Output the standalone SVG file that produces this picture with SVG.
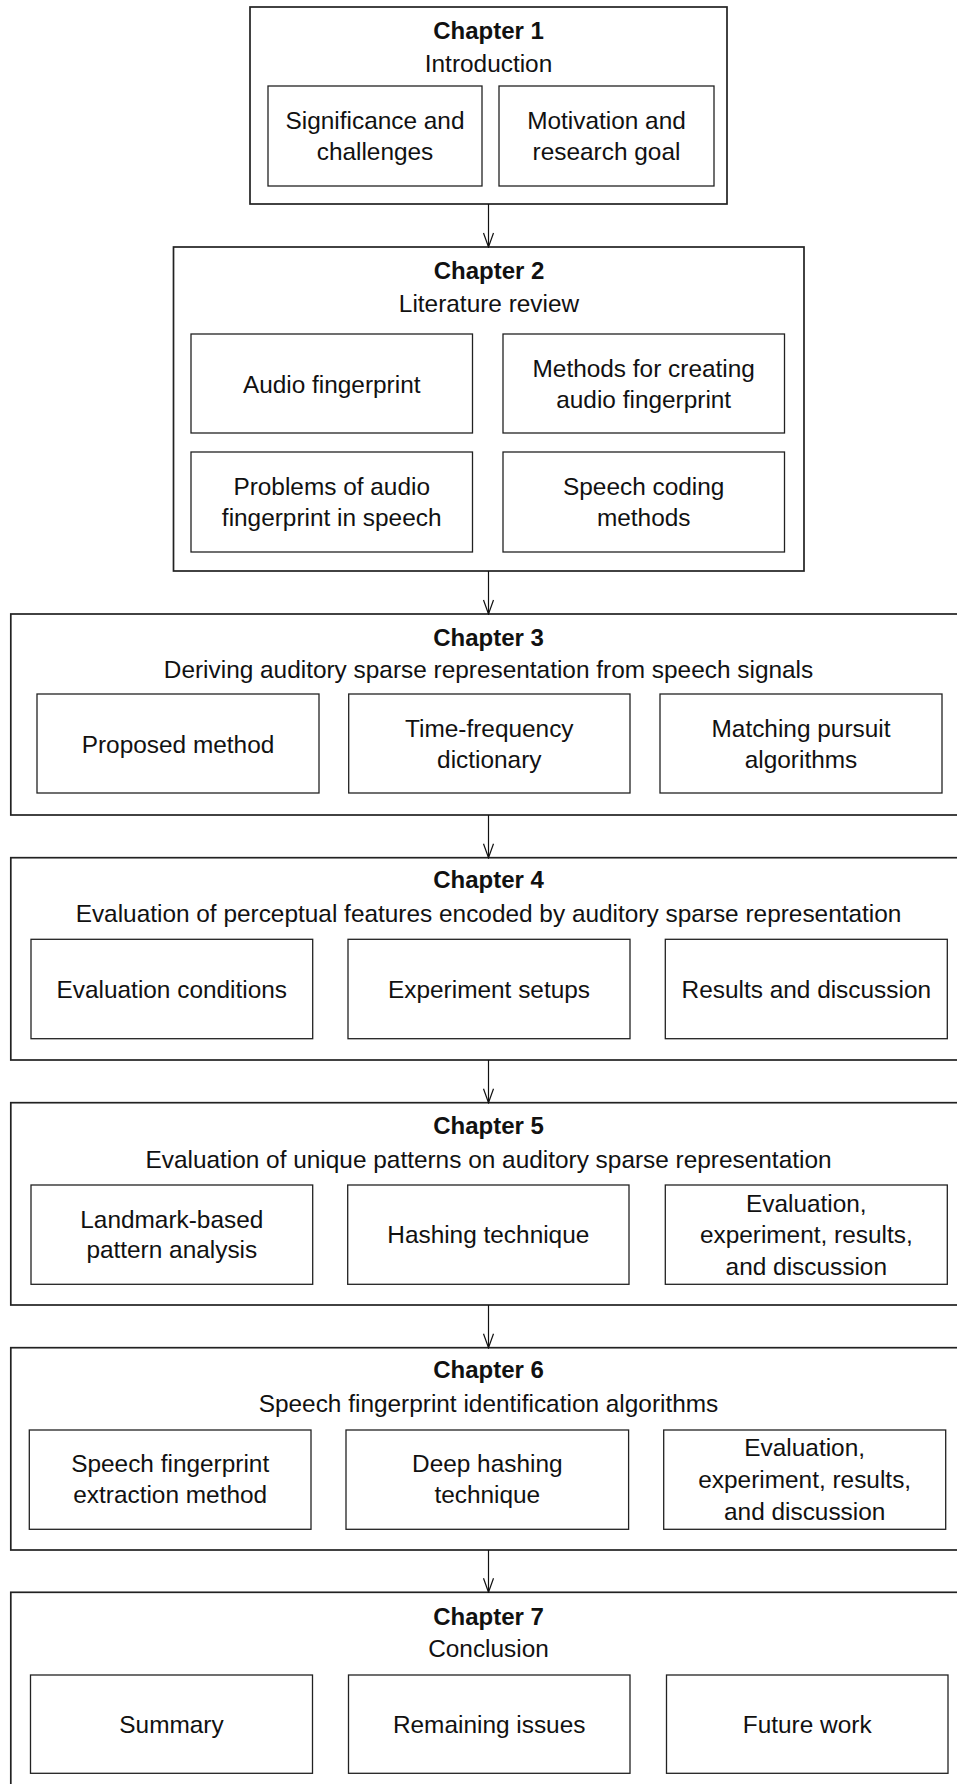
<svg xmlns="http://www.w3.org/2000/svg" width="957" height="1784" viewBox="0 0 957 1784">
<style>
text{font-family:"Liberation Sans",Arial,sans-serif;font-size:24.4px;fill:#111;text-anchor:middle}
.t{font-weight:bold;font-size:24px}
.o{fill:#fff;stroke:#222;stroke-width:1.7}
.i{fill:#fff;stroke:#222;stroke-width:1.3}
.c{stroke:#111;stroke-width:1.2;fill:none}
</style>
<defs>
<marker id="ah" markerUnits="userSpaceOnUse" markerWidth="16" markerHeight="14" viewBox="-15 -7 16 14" refX="0" refY="0" orient="auto">
<path d="M-14,-5 L0,0 L-14,5" fill="none" stroke="#111" stroke-width="1.2"/>
</marker>
</defs>
<rect width="957" height="1784" fill="#fff"/>

<g id="ch1">
<rect class="o" x="250" y="7" width="477" height="197"/>
<text class="t" x="488.5" y="39">Chapter 1</text>
<text x="488.5" y="72">Introduction</text>
<rect class="i" x="268" y="86" width="214" height="100"/>
<text x="375" y="129">Significance and</text>
<text x="375" y="160">challenges</text>
<rect class="i" x="499" y="86" width="215" height="100"/>
<text x="606.5" y="129">Motivation and</text>
<text x="606.5" y="160">research goal</text>
</g>

<g id="ch2">
<rect class="o" x="173.5" y="247" width="630.5" height="324"/>
<text class="t" x="489" y="279">Chapter 2</text>
<text x="489" y="312">Literature review</text>
<rect class="i" x="191" y="334" width="281.5" height="99"/>
<text x="331.7" y="393">Audio fingerprint</text>
<rect class="i" x="503" y="334" width="281.5" height="99"/>
<text x="643.7" y="377">Methods for creating</text>
<text x="643.7" y="408">audio fingerprint</text>
<rect class="i" x="191" y="452" width="281.5" height="100"/>
<text x="331.7" y="495">Problems of audio</text>
<text x="331.7" y="526">fingerprint in speech</text>
<rect class="i" x="503" y="452" width="281.5" height="100"/>
<text x="643.7" y="495">Speech coding</text>
<text x="643.7" y="526">methods</text>
</g>

<g id="ch3">
<rect class="o" x="10.8" y="614" width="970" height="201"/>
<text class="t" x="488.5" y="646">Chapter 3</text>
<text x="488.5" y="678">Deriving auditory sparse representation from speech signals</text>
<rect class="i" x="37" y="694" width="282" height="99"/>
<text x="178" y="753">Proposed method</text>
<rect class="i" x="348.7" y="694" width="281.3" height="99"/>
<text x="489.3" y="737">Time-frequency</text>
<text x="489.3" y="768">dictionary</text>
<rect class="i" x="660" y="694" width="282" height="99"/>
<text x="801" y="737">Matching pursuit</text>
<text x="801" y="768">algorithms</text>
</g>

<g id="ch4">
<rect class="o" x="10.8" y="857.7" width="970" height="202.3"/>
<text class="t" x="488.5" y="888">Chapter 4</text>
<text x="488.5" y="921.7">Evaluation of perceptual features encoded by auditory sparse representation</text>
<rect class="i" x="31" y="939.3" width="281.7" height="99.4"/>
<text x="171.8" y="998">Evaluation conditions</text>
<rect class="i" x="348" y="939.3" width="282" height="99.4"/>
<text x="489" y="998">Experiment setups</text>
<rect class="i" x="665.3" y="939.3" width="282" height="99.4"/>
<text x="806.3" y="998">Results and discussion</text>
</g>

<g id="ch5">
<rect class="o" x="10.8" y="1102.7" width="970" height="202.3"/>
<text class="t" x="488.5" y="1134.3">Chapter 5</text>
<text x="488.5" y="1167.7">Evaluation of unique patterns on auditory sparse representation</text>
<rect class="i" x="31" y="1185" width="281.7" height="99.3"/>
<text x="171.8" y="1227.7">Landmark-based</text>
<text x="171.8" y="1258.3">pattern analysis</text>
<rect class="i" x="347.7" y="1185" width="281.3" height="99.3"/>
<text x="488.3" y="1243.3">Hashing technique</text>
<rect class="i" x="665.3" y="1185" width="282" height="99.3"/>
<text x="806.3" y="1211.7">Evaluation,</text>
<text x="806.3" y="1243.3">experiment, results,</text>
<text x="806.3" y="1275">and discussion</text>
</g>

<g id="ch6">
<rect class="o" x="10.8" y="1347.7" width="970" height="202.3"/>
<text class="t" x="488.5" y="1378.3">Chapter 6</text>
<text x="488.5" y="1411.7">Speech fingerprint identification algorithms</text>
<rect class="i" x="29.3" y="1430" width="281.7" height="99.3"/>
<text x="170.2" y="1471.7">Speech fingerprint</text>
<text x="170.2" y="1503.3">extraction method</text>
<rect class="i" x="346" y="1430" width="282.6" height="99.3"/>
<text x="487.3" y="1471.7">Deep hashing</text>
<text x="487.3" y="1503.3">technique</text>
<rect class="i" x="663.7" y="1430" width="282" height="99.3"/>
<text x="804.7" y="1456">Evaluation,</text>
<text x="804.7" y="1488.3">experiment, results,</text>
<text x="804.7" y="1520">and discussion</text>
</g>

<g id="ch7">
<rect class="o" x="10.8" y="1592.3" width="970" height="220"/>
<text class="t" x="488.5" y="1625">Chapter 7</text>
<text x="488.5" y="1657">Conclusion</text>
<rect class="i" x="30.5" y="1675" width="282" height="98.3"/>
<text x="171.5" y="1733">Summary</text>
<rect class="i" x="348.5" y="1675" width="281.5" height="98.3"/>
<text x="489.2" y="1733">Remaining issues</text>
<rect class="i" x="666.5" y="1675" width="281.5" height="98.3"/>
<text x="807.2" y="1733">Future work</text>
</g>

<g id="connectors">
<line class="c" x1="488.5" y1="204" x2="488.5" y2="247" marker-end="url(#ah)"/>
<line class="c" x1="488.5" y1="571" x2="488.5" y2="614" marker-end="url(#ah)"/>
<line class="c" x1="488.5" y1="815" x2="488.5" y2="857.7" marker-end="url(#ah)"/>
<line class="c" x1="488.5" y1="1060" x2="488.5" y2="1102.7" marker-end="url(#ah)"/>
<line class="c" x1="488.5" y1="1305" x2="488.5" y2="1347.7" marker-end="url(#ah)"/>
<line class="c" x1="488.5" y1="1550" x2="488.5" y2="1592.3" marker-end="url(#ah)"/>
</g>
</svg>
